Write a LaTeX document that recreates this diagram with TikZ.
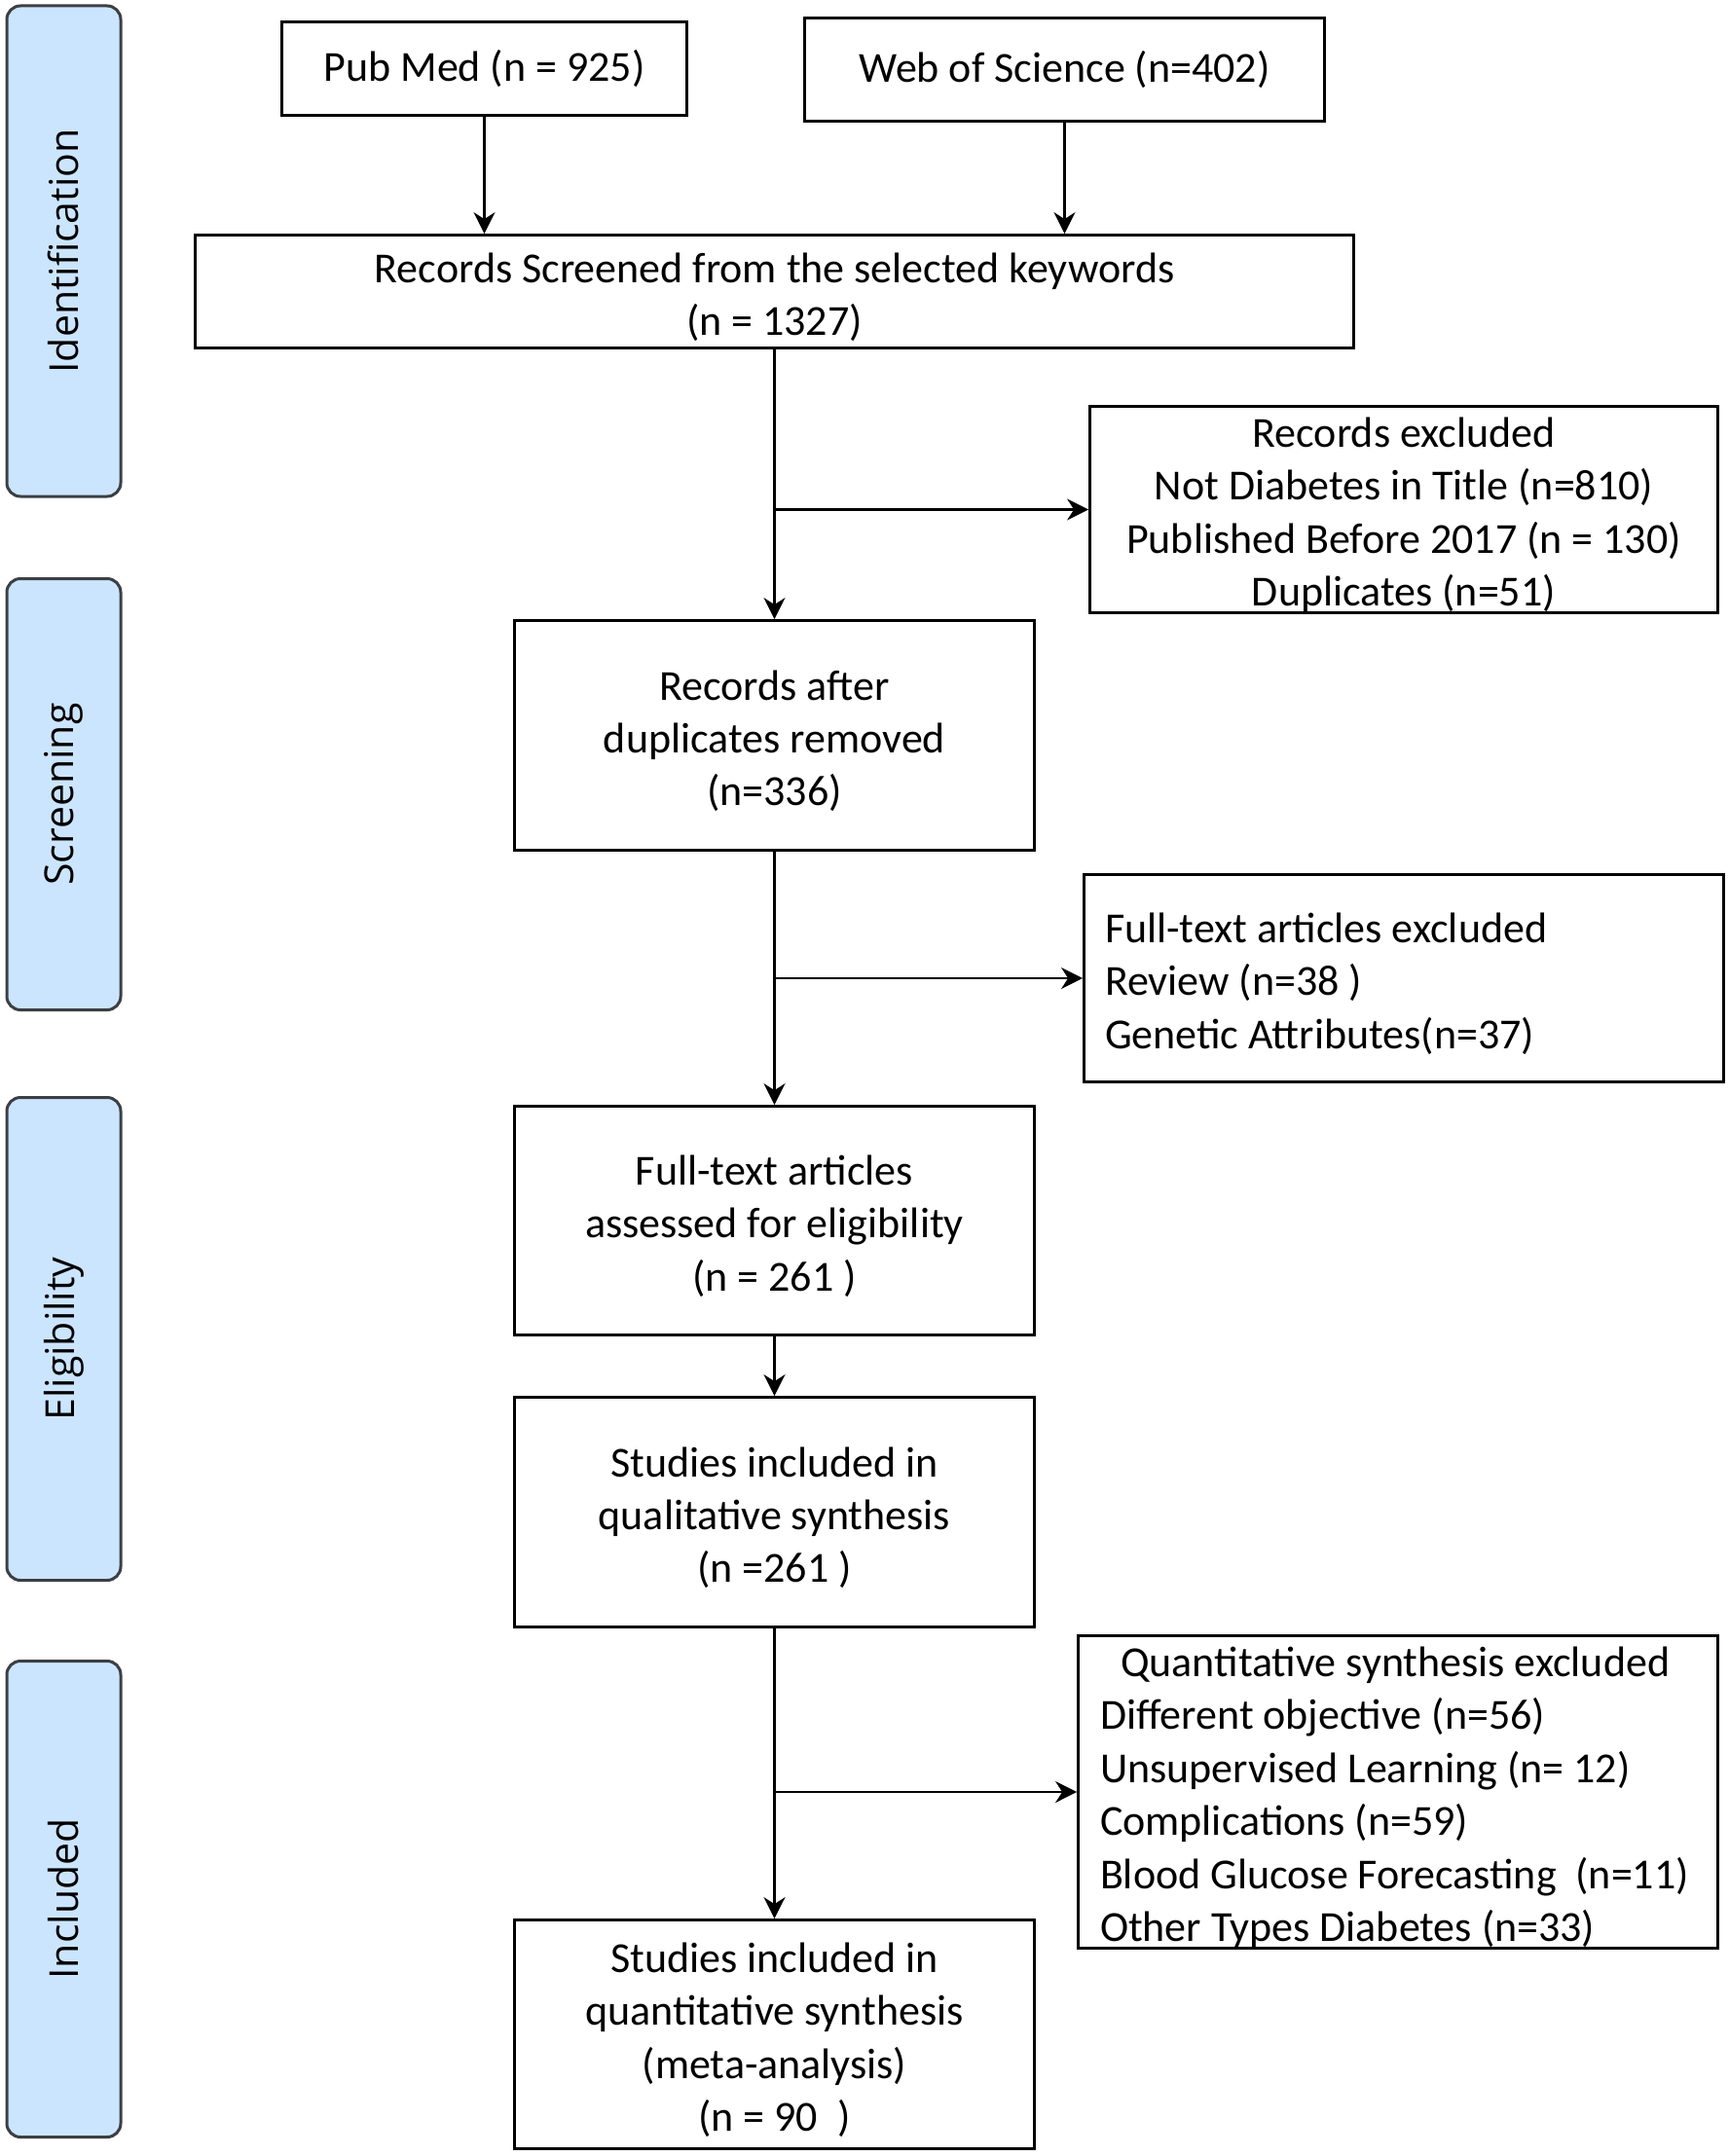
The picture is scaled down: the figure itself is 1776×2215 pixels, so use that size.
\documentclass[tikz,border=0pt]{standalone}
\usepackage{fontspec}
\setmainfont{Carlito}
\newfontfamily\sidefont{Open Sans}
\usetikzlibrary{arrows.meta,positioning,shapes}
\definecolor{sidefill}{RGB}{204,229,255}
\definecolor{sideline}{RGB}{60,63,68}
\newcommand{\topstrut}{\rule{0pt}{21pt}}

\begin{document}
\begin{tikzpicture}[x=0.5pt, y=-0.5pt,
  box/.style={draw, line width=1.4pt, align=center, inner sep=0pt, font=\fontsize{22}{27.2}\selectfont},
  side/.style={draw=sideline, fill=sidefill, line width=1.5pt, rounded corners=7pt, rotate=90,
    minimum height=58.5pt, font=\sidefont\fontsize{20.5}{25}\selectfont},
  arr/.style={line width=1.2pt, -{Stealth[length=11pt, width=11pt, inset=3.5pt]}}]
\useasboundingbox (0,0) rectangle (1776,2215);

% stage labels on the left
\foreach \nm/\yc/\len/\txt in {ident/258/252pt/Identification, screen/816/221.5pt/Screening,
  elig/1375.5/248pt/Eligibility, incl/1951/244.5pt/Included}
  \node[side, minimum width=\len] (\nm) at (65.5,\yc) {\txt};

\node[box, minimum width=208pt, minimum height=48pt] (pubmed) at (497.5,70.5) {Pub Med (n = 925)};
\node[box, minimum width=267pt, minimum height=53pt] (wos) at (1093.5,71.5) {Web of Science (n=402)};
\node[box, minimum width=595pt, minimum height=58pt] (screened) at (795.5,299.5)
  {\topstrut Records Screened from the selected keywords\\(n = 1327)};
\node[box, minimum width=322.5pt, minimum height=102pt] (excl1) at (1442,523.5)
  {\topstrut Records excluded\\Not Diabetes in Title (n=810)\\Published Before 2017 (n = 130)\\Duplicates (n=51)};
\node[box, minimum width=267pt, minimum height=118pt] (afterdup) at (795.5,755.5)
  {\topstrut Records after\\duplicates removed\\(n=336)};
\node[box, align=flush left, text width=307pt, minimum width=328.5pt, minimum height=106.5pt] (excl2) at (1442,1005)
  {\topstrut Full-text articles excluded\\Review (n=38 )\\Genetic Attributes(n=37)};
\node[box, minimum width=267pt, minimum height=117.5pt] (assessed) at (795.5,1254)
  {\topstrut Full-text articles\\assessed for eligibility\\(n = 261 )};
\node[box, minimum width=267pt, minimum height=118pt] (qual) at (795.5,1553.5)
  {\topstrut Studies included in\\qualitative synthesis\\(n =261 )};
\node[box, align=flush left, text width=306pt, minimum width=328.5pt, minimum height=159.5pt] (excl3) at (1436,1841)
  {\topstrut\hspace*{10.5pt}Quantitative synthesis excluded\\Different objective (n=56)\\Unsupervised Learning (n= 12)\\
   Complications (n=59)\\Blood Glucose Forecasting~~(n=11)\\Other Types Diabetes (n=33)};
\node[box, minimum width=267pt, minimum height=117.5pt] (quant) at (795.5,2090)
  {\topstrut Studies included in\\quantitative synthesis\\(meta-analysis)\\(n = 90~~)};

\draw[arr] (pubmed.south) -- (pubmed.south |- screened.north);
\draw[arr] (wos.south) -- (wos.south |- screened.north);
\draw[arr] (screened) -- (afterdup);
\draw[arr] (afterdup) -- (assessed);
\draw[arr] (assessed) -- (qual);
\draw[arr] (qual) -- (quant);

\coordinate (b1) at (screened.south |- excl1.west);
\coordinate (b2) at (afterdup.south |- excl2.west);
\coordinate (b3) at (qual.south |- excl3.west);
\draw[arr] (b1) -- (excl1.west);
\draw[arr] (b2) -- (excl2.west);
\draw[arr] (b3) -- (excl3.west);
\end{tikzpicture}
\end{document}
